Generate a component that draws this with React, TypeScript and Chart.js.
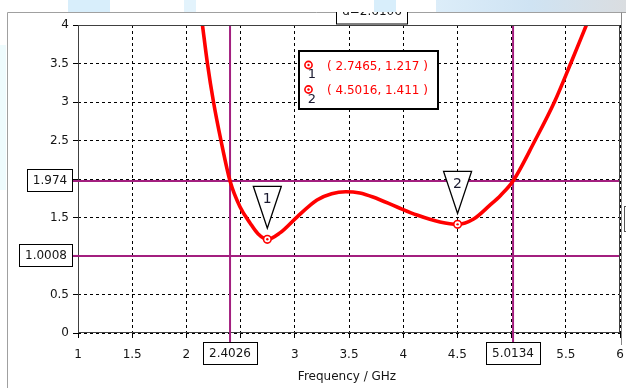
import React, { useEffect, useRef } from 'react';
import { Chart, registerables } from 'chart.js';

Chart.register(...registerables);

// ---- data ----
const freqGHz = [2.148, 2.194, 2.25, 2.319, 2.4026, 2.494, 2.587, 2.66, 2.7465, 2.863, 3.02, 3.205, 3.34, 3.47, 3.6, 3.721, 3.943, 4.127, 4.339, 4.5016, 4.65, 4.8, 4.9, 5.0134, 5.216, 5.395, 5.545, 5.69];
const vswr = [4.0, 3.5, 3.0, 2.5, 1.974, 1.64, 1.43, 1.29, 1.217, 1.3, 1.506, 1.727, 1.808, 1.834, 1.818, 1.766, 1.636, 1.532, 1.442, 1.411, 1.48, 1.66, 1.79, 1.974, 2.5, 3.0, 3.5, 4.0];

const markerLabels = ['1', '2'];
const markerX = [2.7465, 4.5016];
const markerY = [1.217, 1.411];

const hLineValues = [1.974, 1.0008];
const hLineLabels = ['1.974', '1.0008'];
const vLineValues = [2.4026, 5.0134];
const vLineLabels = ['2.4026', '5.0134'];
const deltaLabel = 'd=2.6106';

const xTitle = 'Frequency / GHz';
const xMin = 1, xMax = 6, yMin = 0, yMax = 4;
const hiddenXTicks = [2.5, 5];
const hiddenYTicks = [2, 1];

const RED = '#ff0000';
const MAG = '#a31f7f';
const FONT = '"DejaVu Sans", Verdana, sans-serif';
const TXT = '#141414';

const overlayPlugin = {
  id: 'overlay',
  beforeDraw(chart: any) {
    const ctx = chart.ctx;
    ctx.save();
    ctx.fillStyle = '#ffffff';
    ctx.fillRect(0, 0, chart.width, chart.height);
    ctx.fillStyle = '#eefbfd';
    ctx.fillRect(0, 45, 6, 145);
    ctx.restore();
  },
  afterDraw(chart: any) {
    const ctx = chart.ctx;
    const xs = chart.scales.x;
    const ys = chart.scales.y;
    const a = chart.chartArea;
    ctx.save();

    // frame
    ctx.strokeStyle = '#404040';
    ctx.lineWidth = 1;
    ctx.setLineDash([]);
    ctx.strokeRect(Math.round(a.left) + 0.5, Math.round(a.top) + 0.5, Math.round(a.right - a.left) - 1, Math.round(a.bottom - a.top) - 1);

    // outer window lines
    ctx.strokeStyle = '#a0a0a0';
    ctx.beginPath();
    ctx.moveTo(7.5, 12.5); ctx.lineTo(7.5, chart.height);
    ctx.moveTo(7.5, 12.5); ctx.lineTo(chart.width, 12.5);
    ctx.stroke();
    ctx.strokeStyle = '#888';
    ctx.beginPath();
    ctx.moveTo(621.5, 12.5); ctx.lineTo(621.5, 345);
    ctx.stroke();
    ctx.strokeStyle = '#555';
    ctx.strokeRect(624.5, 206.5, 6, 25);

    // magenta extensions to boxes
    ctx.strokeStyle = MAG;
    ctx.lineWidth = 2;
    hLineValues.forEach((v) => {
      const py = ys.getPixelForValue(v);
      ctx.beginPath(); ctx.moveTo(72, py); ctx.lineTo(a.left + 1, py); ctx.stroke();
    });
    vLineValues.forEach((v) => {
      const px = xs.getPixelForValue(v);
      ctx.beginPath(); ctx.moveTo(px, a.bottom - 1); ctx.lineTo(px, 342); ctx.stroke();
    });

    ctx.font = `12px ${FONT}`;
    ctx.textBaseline = 'middle';
    ctx.textAlign = 'center';
    ctx.lineWidth = 1;
    // y boxes
    hLineValues.forEach((v, i) => {
      const py = Math.round(ys.getPixelForValue(v)) - 1;
      const t = hLineLabels[i];
      const w = Math.round(ctx.measureText(t).width) + 12;
      const right = 73;
      ctx.fillStyle = '#fff';
      ctx.fillRect(right - w, py - 11, w, 22);
      ctx.strokeStyle = '#000';
      ctx.strokeRect(right - w + 0.5, py - 11 + 0.5, w - 1, 22);
      ctx.fillStyle = TXT;
      ctx.fillText(t, right - w / 2, py + 1);
    });
    // x boxes
    vLineValues.forEach((v, i) => {
      const px = Math.round(xs.getPixelForValue(v));
      const t = vLineLabels[i];
      const w = Math.round(ctx.measureText(t).width) + 12;
      ctx.fillStyle = '#fff';
      ctx.fillRect(px - w / 2, 342, w, 22);
      ctx.strokeStyle = '#000';
      ctx.strokeRect(Math.round(px - w / 2) + 0.5, 342.5, w, 22);
      ctx.fillStyle = TXT;
      ctx.fillText(t, px, 354);
    });

    // x title
    ctx.fillStyle = TXT;
    ctx.fillText(xTitle, (a.left + a.right) / 2 - 2, 377);

    // triangles
    markerX.forEach((mx, i) => {
      const px = xs.getPixelForValue(mx);
      const py = ys.getPixelForValue(markerY[i]);
      const apexY = py - 11;
      const topY = apexY - 42;
      ctx.beginPath();
      ctx.moveTo(px - 14, topY);
      ctx.lineTo(px + 14, topY);
      ctx.lineTo(px, apexY);
      ctx.closePath();
      ctx.fillStyle = '#fff';
      ctx.fill();
      ctx.strokeStyle = '#000';
      ctx.lineWidth = 1.3;
      ctx.stroke();
      ctx.fillStyle = '#1a1a30';
      ctx.font = `14px ${FONT}`;
      ctx.fillText(markerLabels[i], px, topY + 13);
    });

    // legend box
    ctx.fillStyle = '#fff';
    ctx.fillRect(298, 50, 140, 59);
    ctx.strokeStyle = '#000';
    ctx.lineWidth = 2;
    ctx.strokeRect(299, 51, 139, 58);
    markerX.forEach((mx, i) => {
      const cy = 65 + i * 24.5;
      ctx.beginPath();
      ctx.arc(308.5, cy, 3.6, 0, Math.PI * 2);
      ctx.fillStyle = '#fff';
      ctx.fill();
      ctx.strokeStyle = RED;
      ctx.lineWidth = 1.6;
      ctx.stroke();
      ctx.beginPath();
      ctx.arc(308.5, cy, 1.2, 0, Math.PI * 2);
      ctx.fillStyle = RED;
      ctx.fill();
      ctx.fillStyle = '#1a1a30';
      ctx.font = `13px ${FONT}`;
      ctx.textAlign = 'center';
      ctx.fillText(markerLabels[i], 312, cy + 10);
      ctx.fillStyle = RED;
      ctx.font = `12px ${FONT}`;
      ctx.textAlign = 'left';
      ctx.fillText(`( ${mx.toFixed(4)}, ${markerY[i].toFixed(3)} )`, 327, cy + 1.5);
    });

    // d box (cut at top)
    ctx.textAlign = 'center';
    ctx.fillStyle = '#fff';
    ctx.fillRect(336, 0, 72, 24);
    ctx.strokeStyle = '#000';
    ctx.lineWidth = 1;
    ctx.strokeRect(336.5, -1, 71, 25);
    ctx.fillStyle = TXT;
    ctx.font = `12px ${FONT}`;
    ctx.fillText(deltaLabel, 372, 12);

    // top blurred band
    ctx.fillStyle = '#ffffff';
    ctx.fillRect(0, 0, chart.width, 12);
    ctx.fillStyle = '#d8eefb';
    ctx.fillRect(68, 0, 42, 12);
    ctx.fillStyle = '#e3f3fc';
    ctx.fillRect(184, 0, 12, 12);
    ctx.fillStyle = '#d8eefb';
    ctx.fillRect(374, 0, 22, 12);
    const g = ctx.createLinearGradient(436, 0, 626, 0);
    g.addColorStop(0, '#dcedf9');
    g.addColorStop(0.5, '#cfe3f3');
    g.addColorStop(1, '#dadde0');
    ctx.fillStyle = g;
    ctx.fillRect(436, 0, 190, 12);

    ctx.restore();
  },
};

export default function App() {
  const ref = useRef<HTMLCanvasElement | null>(null);
  useEffect(() => {
    if (!ref.current) return;
    const curve = freqGHz.map((x, i) => ({ x, y: vswr[i] }));
    const pts = markerX.map((x, i) => ({ x, y: markerY[i] }));
    const hData = hLineValues.map((v) => [{ x: xMin, y: v }, { x: xMax, y: v }]);
    const vData = vLineValues.map((v) => [{ x: v, y: yMin }, { x: v, y: yMax }]);
    const chart = new Chart(ref.current, {
      type: 'scatter',
      data: {
        datasets: [
          { data: pts, pointRadius: 1.2, pointBackgroundColor: RED, pointBorderWidth: 0, showLine: false } as any,
          { data: pts, pointRadius: 3.8, pointBackgroundColor: '#fff', pointBorderColor: RED, pointBorderWidth: 1.6, showLine: false } as any,
          { data: curve, showLine: true, borderColor: RED, borderWidth: 3.6, pointRadius: 0, cubicInterpolationMode: 'monotone' } as any,
          ...hData.map((d) => ({ data: d, showLine: true, borderColor: MAG, borderWidth: 2, pointRadius: 0 } as any)),
          ...vData.map((d) => ({ data: d, showLine: true, borderColor: MAG, borderWidth: 2, pointRadius: 0 } as any)),
        ],
      },
      options: {
        responsive: false,
        maintainAspectRatio: false,
        animation: false,
        events: [],
        layout: { padding: { left: 0, top: 25, right: 6, bottom: 0 } },
        plugins: { legend: { display: false }, tooltip: { enabled: false }, title: { display: false } },
        scales: {
          x: {
            type: 'linear',
            min: xMin,
            max: xMax,
            afterFit: (s: any) => { s.height = 55; s.paddingLeft = 0; s.paddingRight = 0; s.paddingTop = 0; s.paddingBottom = 0; },
            ticks: {
              stepSize: 0.5,
              autoSkip: false,
              maxRotation: 0,
              padding: 10,
              color: TXT,
              font: { family: FONT, size: 12 },
              callback: (v: any) => (hiddenXTicks.includes(Number(v)) ? '' : String(Number(v))),
            },
            grid: { color: '#000', lineWidth: 1, tickLength: 5, tickColor: '#000' },
            border: { display: false, dash: [3, 3] },
          },
          y: {
            type: 'linear',
            min: yMin,
            max: yMax,
            afterFit: (s: any) => { s.width = 78; s.paddingLeft = 0; s.paddingRight = 0; s.paddingTop = 0; s.paddingBottom = 0; },
            ticks: {
              stepSize: 0.5,
              autoSkip: false,
              padding: 4,
              color: TXT,
              font: { family: FONT, size: 12 },
              callback: (v: any) => (hiddenYTicks.includes(Number(v)) ? '' : String(Number(v))),
            },
            grid: { color: '#000', lineWidth: 1, tickLength: 5, tickColor: '#000' },
            border: { display: false, dash: [3, 3] },
          },
        },
      },
      plugins: [overlayPlugin],
    });
    return () => chart.destroy();
  }, []);
  return (
    <canvas ref={ref} width={626} height={388} style={{ position: 'fixed', left: 0, top: 0, width: 626, height: 388 }} />
  );
}
